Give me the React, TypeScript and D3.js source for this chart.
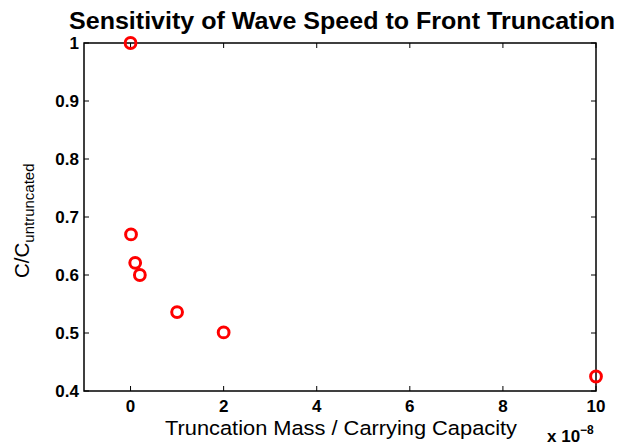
import React from "react";
import * as d3 from "d3";

const xValues = [0, 0.01, 0.1, 0.2, 1, 2, 10];
const yValues = [1, 0.67, 0.621, 0.6, 0.536, 0.501, 0.425];
const xTicks = [0, 2, 4, 6, 8, 10];
const yTicks = [0.4, 0.5, 0.6, 0.7, 0.8, 0.9, 1];

const W = 621, H = 447;
const M = { left: 84, right: 596, top: 43, bottom: 391 };

export default function App() {
  const x = d3.scaleLinear().domain([-1, 10]).range([M.left, M.right]);
  const y = d3.scaleLinear().domain([0.4, 1]).range([M.bottom, M.top]);
  const font = "Liberation Sans, Arial, Helvetica, sans-serif";
  const tl = 5;
  return (
    <svg width={W} height={H} style={{ position: "absolute", left: 0, top: 0 }} fontFamily={font}>
      <rect x={0} y={0} width={W} height={H} fill="#fff" />
      <text x={69} y={29} fontSize={23.5} fontWeight="bold" textLength={546} lengthAdjust="spacingAndGlyphs">
        Sensitivity of Wave Speed to Front Truncation
      </text>
      {xTicks.map((t) => (
        <g key={"x" + t}>
          <line x1={x(t)} x2={x(t)} y1={M.bottom} y2={M.bottom - tl} stroke="#000" strokeWidth={1} />
          <line x1={x(t)} x2={x(t)} y1={M.top} y2={M.top + tl} stroke="#000" strokeWidth={1} />
          <text x={x(t)} y={M.bottom + 21} textAnchor="middle" fontSize={17} fontWeight="bold">{t}</text>
        </g>
      ))}
      {yTicks.map((t) => (
        <g key={"y" + t}>
          <line x1={M.left} x2={M.left + tl} y1={y(t)} y2={y(t)} stroke="#000" strokeWidth={1} />
          <line x1={M.right} x2={M.right - tl} y1={y(t)} y2={y(t)} stroke="#000" strokeWidth={1} />
          <text x={M.left - 5} y={y(t) + 6} textAnchor="end" fontSize={17} fontWeight="bold">
            {t === 1 ? "1" : d3.format(".1f")(t)}
          </text>
        </g>
      ))}
      <rect x={M.left} y={M.top} width={M.right - M.left} height={M.bottom - M.top} fill="none" stroke="#000" strokeWidth={1.5} />
      {xValues.map((v, i) => (
        <circle key={i} cx={x(v)} cy={y(yValues[i])} r={5.4} fill="none" stroke="#ff0000" strokeWidth={3} />
      ))}
      <text x={165} y={435} fontSize={20.5} textLength={352} lengthAdjust="spacingAndGlyphs">Truncation Mass / Carrying Capacity</text>
      <text x={547} y={442} fontSize={17} fontWeight="bold">
        x 10<tspan dy={-8} fontSize={12}>−8</tspan>
      </text>
      <text transform={`translate(29,278) rotate(-90)`} fontSize={20.5}>
        C/C<tspan dy={5} fontSize={15}>untruncated</tspan>
      </text>
    </svg>
  );
}
